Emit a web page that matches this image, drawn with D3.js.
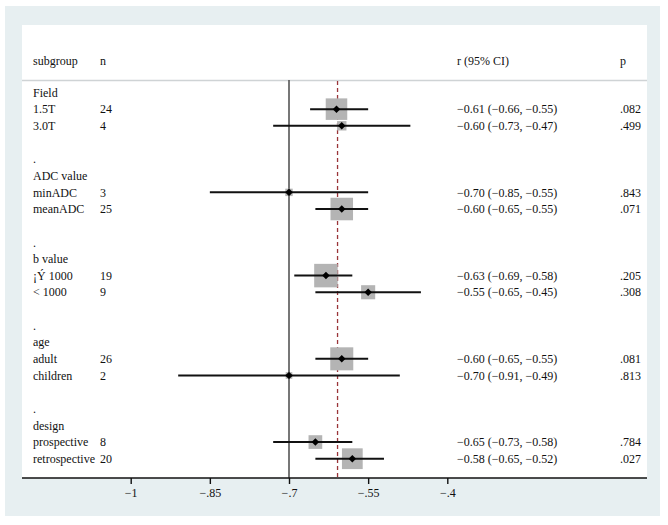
<!DOCTYPE html>
<html>
<head>
<meta charset="utf-8">
<script src="https://cdn.jsdelivr.net/npm/d3@7"></script>
<style>
  html, body { margin: 0; padding: 0; background: #ffffff; }
  svg text { font-family: "Liberation Serif", "Times New Roman", serif; font-size: 12px; fill: #111; }
</style>
</head>
<body>
<svg id="chart" width="668" height="525"></svg>
<script>
// ---- data ----
const rowLabels = ["Field", "1.5T", "3.0T", "", ".", "ADC value", "minADC", "meanADC", "", ".", "b value", "¡Ý 1000", "< 1000", "", ".", "age", "adult", "children", "", ".", "design", "prospective", "retrospective"];
const rowN      = [null, 24, 4, null, null, null, 3, 25, null, null, null, 19, 9, null, null, null, 26, 2, null, null, null, 8, 20];
const rowR      = [null, -0.61, -0.60, null, null, null, -0.70, -0.60, null, null, null, -0.63, -0.55, null, null, null, -0.60, -0.70, null, null, null, -0.65, -0.58];
const rowLo     = [null, -0.66, -0.73, null, null, null, -0.85, -0.65, null, null, null, -0.69, -0.65, null, null, null, -0.65, -0.91, null, null, null, -0.73, -0.65];
const rowHi     = [null, -0.55, -0.47, null, null, null, -0.55, -0.55, null, null, null, -0.58, -0.45, null, null, null, -0.55, -0.49, null, null, null, -0.58, -0.52];
const rowP      = [null, ".082", ".499", null, null, null, ".843", ".071", null, null, null, ".205", ".308", null, null, null, ".081", ".813", null, null, null, ".784", ".027"];
const rowWeight = [null, 84, 16, null, null, null, 10, 92, null, null, null, 100, 36, null, null, null, 96, 8, null, null, null, 34, 78];
const overallR = -0.608;
const nullValue = -0.7;
const tickValues = [-1, -0.85, -0.7, -0.55, -0.4];
const tickLabels = ["−1", "−.85", "−.7", "−.55", "−.4"];
const headers = ["subgroup", "n", "r (95% CI)", "p"];

// ---- layout ----
const svg = d3.select("#chart");
const W = 668, H = 525;
svg.append("rect").attr("x", 0).attr("y", 0).attr("width", W).attr("height", H).attr("fill", "#ffffff");
svg.append("rect").attr("x", 5).attr("y", 6).attr("width", 655).attr("height", 510).attr("fill", "#e7eff1");
const panel = {x0: 22, x1: 647, y0: 25, y1: 478};
svg.append("rect").attr("x", panel.x0).attr("y", panel.y0).attr("width", panel.x1 - panel.x0).attr("height", panel.y1 - panel.y0).attr("fill", "#ffffff");

const x = d3.scaleLinear().domain([-1, -0.4]).range([130.7, 447.3]);
const y = d3.scaleLinear().domain([0, rowLabels.length - 1]).range([92.5, 458.7]);
const side = d3.scaleSqrt().domain([0, 100]).range([0, 23.5]);

// header
const hy = 61;
const fmt = (v) => (v < 0 ? "−" : "") + Math.abs(v).toFixed(2);
svg.append("text").attr("x", 33).attr("y", hy).attr("dy", "0.35em").text(headers[0]);
svg.append("text").attr("x", 100).attr("y", hy).attr("dy", "0.35em").text(headers[1]);
svg.append("text").attr("x", 457).attr("y", hy).attr("dy", "0.35em").text(headers[2]);
svg.append("text").attr("x", 620).attr("y", hy).attr("dy", "0.35em").text(headers[3]);
svg.append("line").attr("x1", panel.x0).attr("x2", panel.x1).attr("y1", 80.5).attr("y2", 80.5)
  .attr("stroke", "#cfd3d5").attr("stroke-width", 1.5);

// reference lines
svg.append("line").attr("x1", x(nullValue)).attr("x2", x(nullValue)).attr("y1", 80).attr("y2", panel.y1)
  .attr("stroke", "#555555").attr("stroke-width", 1.6);
svg.append("line").attr("x1", x(overallR)).attr("x2", x(overallR)).attr("y1", 81).attr("y2", panel.y1)
  .attr("stroke", "#9a3438").attr("stroke-width", 1.3).attr("stroke-dasharray", "4,3");

// rows
const idx = d3.range(rowLabels.length);
const g = svg.append("g");
idx.forEach(i => {
  const yy = y(i);
  if (rowLabels[i]) {
    g.append("text").attr("x", 33).attr("y", yy).attr("dy", "0.35em").text(rowLabels[i]);
  }
  if (rowN[i] != null) g.append("text").attr("x", 100).attr("y", yy).attr("dy", "0.35em").text(rowN[i]);
  if (rowR[i] != null) {
    g.append("text").attr("x", 457).attr("y", yy).attr("dy", "0.35em")
      .text(`${fmt(rowR[i])} (${fmt(rowLo[i])}, ${fmt(rowHi[i])})`);
    g.append("text").attr("x", 641).attr("y", yy).attr("dy", "0.35em").attr("text-anchor", "end").text(rowP[i]);
    const s = side(rowWeight[i]);
    g.append("rect").attr("x", x(rowR[i]) - s / 2).attr("y", yy - s / 2).attr("width", s).attr("height", s)
      .attr("fill", "#b4b4b4");
    g.append("line").attr("x1", x(rowLo[i])).attr("x2", x(rowHi[i])).attr("y1", yy).attr("y2", yy)
      .attr("stroke", "#111").attr("stroke-width", 2);
    g.append("path").attr("d", d3.symbol(d3.symbolDiamond2, 36)())
      .attr("transform", `translate(${x(rowR[i])},${yy})`).attr("fill", "#000");
  }
});

// axis
const axisY = panel.y1;
svg.append("line").attr("x1", panel.x0).attr("x2", panel.x1).attr("y1", axisY).attr("y2", axisY)
  .attr("stroke", "#111").attr("stroke-width", 1.6);
const axis = d3.axisBottom(x).tickValues(tickValues).tickSize(6).tickPadding(4)
  .tickFormat((d, i) => tickLabels[i]);
const ag = svg.append("g").attr("transform", `translate(0,${axisY})`).call(axis);
ag.select(".domain").remove();
ag.selectAll(".tick line").attr("stroke", "#111").attr("stroke-width", 1.4);
ag.selectAll(".tick text").style("font-family", "'Liberation Serif', serif").style("font-size", "12px").attr("fill", "#111");
</script>
</body>
</html>
